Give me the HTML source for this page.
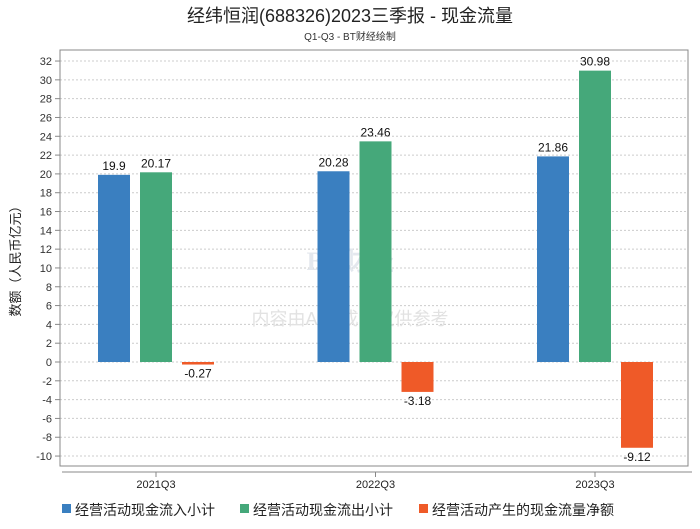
<!DOCTYPE html>
<html><head><meta charset="utf-8"><style>
body{margin:0;background:#fff;width:700px;height:524px;overflow:hidden;font-family:"Liberation Sans","Noto Sans CJK SC",sans-serif}
</style></head><body>
<svg id="c" width="700" height="524" xmlns="http://www.w3.org/2000/svg" font-family="Liberation Sans, Noto Sans CJK SC, sans-serif">
<text x="350" y="22" text-anchor="middle" font-size="18" fill="#222">经纬恒润(688326)2023三季报 - 现金流量</text>
<text x="350" y="40" text-anchor="middle" font-size="10" fill="#333">Q1-Q3 - BT财经绘制</text>
<g id="grid"></g>
<text x="350" y="270" text-anchor="middle" font-size="26" font-weight="bold" fill="#e4e8ee" font-family="Liberation Serif, serif">BT财经</text>
<text x="350" y="325" text-anchor="middle" font-size="18" fill="#e2e2e2">内容由AI生成，仅供参考</text>
<text transform="translate(20,258) rotate(-90)" text-anchor="middle" font-size="13" fill="#222">数额（人民币亿元）</text>
<g id="bars"></g>
<rect x="60" y="50" width="628" height="416" fill="none" stroke="#888"/>
<line x1="62" y1="472" x2="692" y2="472" stroke="#888"/>
<g id="legend" font-size="14" fill="#222">
<rect x="62" y="504" width="9" height="9" fill="#3a7fc0"/>
<text x="75" y="515">经营活动现金流入小计</text>
<rect x="240" y="504" width="9" height="9" fill="#45a87a"/>
<text x="253" y="515">经营活动现金流出小计</text>
<rect x="419" y="504" width="9" height="9" fill="#ef5a28"/>
<text x="432" y="515">经营活动产生的现金流量净额</text>
</g>
</svg>
<script>
const categories=["2021Q3","2022Q3","2023Q3"];
const inflow=[19.9,20.28,21.86];
const outflow=[20.17,23.46,30.98];
const netflow=[-0.27,-3.18,-9.12];
const yTicks=[32,30,28,26,24,22,20,18,16,14,12,10,8,6,4,2,0,-2,-4,-6,-8,-10];
const NS="http://www.w3.org/2000/svg";
const y=v=>362-v*9.405;
const xc=i=>156+i*219.5;
function mk(t,a,p){const e=document.createElementNS(NS,t);for(const k in a)e.setAttribute(k,a[k]);p.appendChild(e);return e;}
const g=document.getElementById('grid'),b=document.getElementById('bars');
yTicks.forEach(v=>{
 const l=mk('line',{x1:60,x2:688,y1:y(v),y2:y(v),stroke:'#ccc','stroke-dasharray':'2,2'},g);
 
 
 const tk=mk('line',{x1:55,x2:60,y1:y(v),y2:y(v),stroke:'#888'},g);
 
 
 const t=mk('text',{x:52,y:y(v)+4,'text-anchor':'end','font-size':11,fill:'#333'},g);
 t.textContent=v;
 
 
});
const series=[[inflow,'#3a7fc0',-42],[outflow,'#45a87a',0],[netflow,'#ef5a28',42]];
categories.forEach((c,i)=>{
 const tk=mk('line',{x1:xc(i),x2:xc(i),y1:472,y2:477,stroke:'#888'},g);
 
 
 const t=mk('text',{x:xc(i),y:488,'text-anchor':'middle','font-size':11,fill:'#222'},g);
 t.textContent=c;
 
 
 series.forEach(([arr,col,off])=>{
  const v=arr[i],x=xc(i)+off-16;
  const top=Math.min(y(v),y(0)),h=Math.abs(y(v)-y(0));
  const r=mk('rect',{x:x,y:top,width:32,height:h,fill:col},b);
  
  
  const lt=mk('text',{x:x+16,y:v>=0?y(v)-5:y(v)+13,'text-anchor':'middle','font-size':12,fill:'#111'},b);
  lt.textContent=v;
  
  
 });
});
</script>
</body></html>
